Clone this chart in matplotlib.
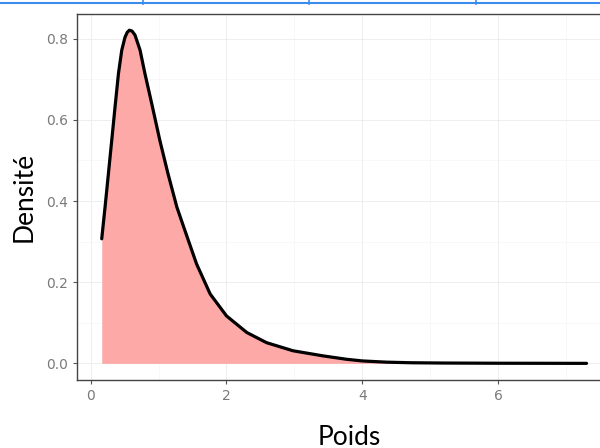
import matplotlib
matplotlib.use("Agg")
import matplotlib.pyplot as plt
from matplotlib.ticker import MultipleLocator

# density curve
poids = [0.164, 0.213, 0.262, 0.311, 0.36, 0.41, 0.459, 0.507, 0.54, 0.571, 0.61,
         0.654, 0.728, 0.80, 0.90, 1.02, 1.14, 1.27, 1.41, 1.56, 1.76, 2.00, 2.30,
         2.59, 2.98, 3.42, 3.77, 4.0, 4.35, 4.72, 5.2, 6.0, 7.3]
densite = [0.307, 0.385, 0.467, 0.549, 0.632, 0.714, 0.772, 0.804, 0.816, 0.821, 0.819,
           0.809, 0.772, 0.714, 0.64, 0.549, 0.467, 0.385, 0.317, 0.245, 0.171, 0.117,
           0.076, 0.051, 0.031, 0.0185, 0.010, 0.006, 0.003, 0.0015, 0.0008, 0.0003, 0.0]
x_ticks = [0, 2, 4, 6]
y_ticks = [0.0, 0.2, 0.4, 0.6, 0.8]

fig = plt.figure(figsize=(6, 4.48), dpi=100)
ax = fig.add_axes([77 / 600, 68 / 448, 534 / 600, 366 / 448])

ax.fill_between(poids, densite, 0, color="#FDA9A8", linewidth=0)
ax.plot(poids, densite, color="black", linewidth=2.3,
        solid_capstyle="round", solid_joinstyle="round")

ax.set_xlim(-0.2, 7.66)
ax.set_ylim(-0.041, 0.861)
ax.set_xticks(x_ticks)
ax.set_yticks(y_ticks)
ax.set_xticklabels([str(t) for t in x_ticks])
ax.set_yticklabels([f"{t:.1f}" for t in y_ticks])
ax.xaxis.set_minor_locator(MultipleLocator(1))
ax.yaxis.set_minor_locator(MultipleLocator(0.1))

ax.grid(which="major", color="#EBEBEB", linewidth=0.6)
ax.grid(which="minor", color="#F4F4F4", linewidth=0.4)
ax.set_axisbelow(True)
ax.tick_params(which="minor", length=0)
ax.tick_params(which="major", colors="#555555", labelcolor="#7A7A7A",
               labelsize=10, length=3, width=0.8)
for s in ax.spines.values():
    s.set_color("#444444")
    s.set_linewidth(1.0)

fig.text(349 / 600, 1 - 437 / 448, "Poids", ha="center", va="center",
         fontsize=19, family="Lato")
fig.text(24 / 600, 1 - 197 / 448, "Densité", ha="center", va="center",
         rotation=90, fontsize=19, family="Lato")

# blue strip from the screenshot at the very top
fig.add_artist(plt.Line2D([0, 1], [1 - 3 / 448, 1 - 3 / 448], color="#3C8CF0",
                          linewidth=1.5, transform=fig.transFigure))
for xs in [143, 309, 476]:
    fig.add_artist(plt.Line2D([xs / 600, xs / 600], [1 - 4 / 448, 1], color="#3C8CF0",
                              linewidth=1.2, transform=fig.transFigure))

fig.savefig("out.png", dpi=100)
